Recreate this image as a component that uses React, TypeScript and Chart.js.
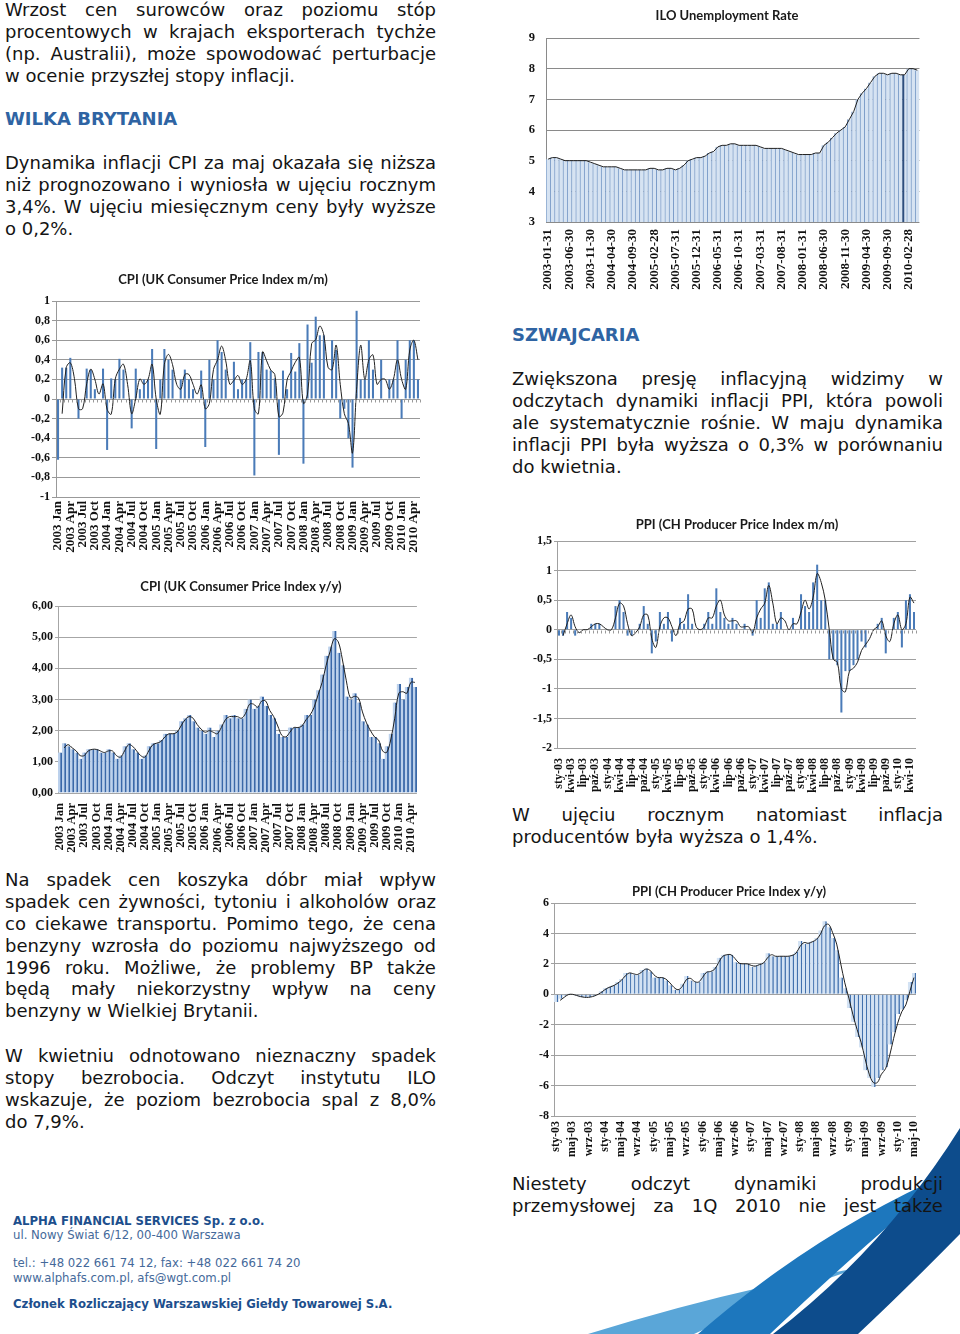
import React, { useEffect, useRef } from 'react';
import { Chart, registerables } from 'chart.js';

Chart.register(...registerables);

// ------------------------------------------------------------------ DATA
const EN_MONTHS = ['Jan', 'Feb', 'Mar', 'Apr', 'May', 'Jun', 'Jul', 'Aug', 'Sep', 'Oct', 'Nov', 'Dec'];
const PL_MONTHS = ['sty', 'lut', 'mar', 'kwi', 'maj', 'cze', 'lip', 'sie', 'wrz', 'paź', 'lis', 'gru'];

// ILO Unemployment Rate, monthly 2003-01 .. 2010-04
const iloStartYear = 2003;
const iloRate = [
  5.05, 5.1, 5.1, 5.05, 5.0, 5.0, 5.0, 5.0, 5.0, 5.0,
  4.95, 4.9, 4.85, 4.8, 4.8, 4.8, 4.8, 4.75, 4.7, 4.7,
  4.7, 4.7, 4.7, 4.7, 4.75, 4.75, 4.7, 4.7, 4.75, 4.75,
  4.7, 4.75, 4.85, 5.0, 5.05, 5.1, 5.1, 5.15, 5.25, 5.3,
  5.45, 5.5, 5.5, 5.55, 5.55, 5.5, 5.5, 5.5, 5.5, 5.5,
  5.45, 5.4, 5.4, 5.4, 5.4, 5.4, 5.35, 5.3, 5.25, 5.2,
  5.2, 5.2, 5.2, 5.25, 5.25, 5.5, 5.6, 5.75, 5.9, 6.0,
  6.1, 6.35, 6.6, 7.0, 7.2, 7.35, 7.55, 7.75, 7.85, 7.85,
  7.8, 7.85, 7.85, 7.8, 7.8, 8.0, 8.0, 7.95,
];
const iloLabelEvery = 5;
const iloMarkedMonth = '2010-01-31';

// UK CPI m/m, monthly 2003 Jan .. 2010 May
const cpiStartYear = 2003;
const cpiMomValues = [
  -0.62, 0.32, 0.32, 0.42, 0.0, -0.2, 0.0, 0.31, 0.3, 0.1,
  0.0, 0.31, -0.52, 0.21, 0.2, 0.41, 0.3, 0.0, -0.3, 0.31,
  0.1, 0.2, 0.2, 0.51, -0.51, 0.2, 0.51, 0.4, 0.3, 0.0,
  0.2, 0.3, 0.2, 0.1, 0.0, 0.29, -0.49, 0.4, 0.2, 0.6,
  0.48, 0.3, 0.0, 0.38, 0.1, 0.2, 0.2, 0.58, -0.78, 0.48,
  0.48, 0.3, 0.29, 0.21, -0.57, 0.29, 0.1, 0.47, 0.28, 0.57,
  -0.66, 0.76, 0.37, 0.84, 0.65, 0.65, 0.0, 0.6, 0.5, -0.2,
  -0.1, -0.4, -0.7, 0.9, 0.2, 0.2, 0.6, 0.3, 0.0, 0.4,
  0.0, 0.2, 0.2, 0.6, -0.2, 0.4, 0.6, 0.6, 0.2,
];
// UK CPI y/y
const cpiYoyValues = [
  1.3, 1.6, 1.5, 1.4, 1.3, 1.1, 1.3, 1.4, 1.4, 1.4, 1.3, 1.3,
  1.4, 1.3, 1.1, 1.2, 1.5, 1.6, 1.4, 1.3, 1.1, 1.2, 1.5, 1.6,
  1.6, 1.7, 1.9, 1.9, 1.9, 2.0, 2.3, 2.4, 2.5, 2.3, 2.1, 2.0,
  1.9, 2.1, 1.8, 2.0, 2.2, 2.5, 2.4, 2.5, 2.4, 2.4, 2.7, 3.0,
  2.7, 2.8, 3.1, 2.8, 2.5, 2.4, 1.9, 1.8, 1.8, 2.1, 2.1, 2.1,
  2.2, 2.5, 2.5, 3.0, 3.3, 3.8, 4.4, 4.7, 5.2, 4.5, 4.1, 3.1,
  3.0, 3.2, 2.9, 2.3, 2.2, 1.8, 1.8, 1.6, 1.1, 1.5, 1.9, 2.9,
  3.5, 3.0, 3.4, 3.7, 3.4,
];
const cpiLabelEvery = 3;

// CH PPI m/m, monthly sty-03 .. maj-10
const ppiStartYear = 2003;
const ppiMomValues = [
  -0.1, -0.1, 0.3, 0.2, -0.1, 0.0, 0.0, 0.0, 0.1, 0.1,
  0.1, 0.0, 0.0, 0.0, 0.4, 0.5, 0.3, -0.1, -0.1, 0.0,
  0.1, 0.4, 0.1, -0.4, -0.2, 0.3, 0.1, 0.3, -0.2, 0.0,
  0.2, 0.1, 0.6, 0.1, 0.0, 0.0, 0.1, 0.3, 0.1, 0.7,
  0.3, 0.2, 0.1, 0.2, 0.1, 0.0, 0.1, 0.0, -0.1, 0.5,
  0.2, 0.7, 0.8, 0.1, 0.1, 0.3, 0.0, 0.0, 0.2, 0.0,
  0.6, 0.4, 0.3, 0.8, 1.1, 0.5, 0.5, -0.5, -0.5, -0.6,
  -1.4, -0.7, -0.7, -0.6, -0.5, -0.2, -0.3, 0.0, 0.0, 0.1,
  0.2, -0.4, 0.0, 0.2, 0.3, -0.3, 0.5, 0.6, 0.3,
];
// CH PPI y/y
const ppiYoyValues = [
  -0.5, -0.3, -0.1, 0.05, -0.05, -0.1, -0.2, -0.2, -0.2, -0.1,
  0.0, 0.2, 0.4, 0.5, 0.6, 0.8, 1.0, 1.4, 1.4, 1.3,
  1.3, 1.6, 1.7, 1.5, 1.1, 1.1, 1.1, 0.9, 0.6, 0.3,
  0.3, 0.7, 1.2, 0.9, 0.8, 0.8, 1.4, 1.5, 1.5, 1.8,
  2.4, 2.6, 2.6, 2.6, 2.1, 2.0, 2.0, 2.0, 1.8, 1.9,
  2.0, 2.1, 2.7, 2.5, 2.5, 2.5, 2.5, 2.5, 2.6, 2.8,
  3.5, 3.3, 3.4, 3.5, 3.7, 4.2, 4.8, 4.4, 3.7, 2.9,
  1.1, 0.4, -0.9, -1.8, -2.8, -3.5, -5.0, -5.5, -6.1, -5.5,
  -5.0, -4.8, -3.3, -2.5, -1.3, -1.0, -0.4, 0.8, 1.4,
];
const ppiMomLabelEvery = 3;
const ppiYoyLabelEvery = 4;

// ------------------------------------------------------------------ HELPERS
function monthEndLabels(startYear: number, n: number): string[] {
  const out: string[] = [];
  for (let k = 0; k < n; k++) {
    const y = startYear + Math.floor(k / 12);
    const m = (k % 12) + 1;
    const d = new Date(Date.UTC(y, m, 0)).getUTCDate();
    out.push(`${y}-${String(m).padStart(2, '0')}-${String(d).padStart(2, '0')}`);
  }
  return out;
}
function enMonthLabels(startYear: number, n: number): string[] {
  const out: string[] = [];
  for (let k = 0; k < n; k++) out.push(`${startYear + Math.floor(k / 12)} ${EN_MONTHS[k % 12]}`);
  return out;
}
function plMonthLabels(startYear: number, n: number): string[] {
  const out: string[] = [];
  for (let k = 0; k < n; k++) {
    const y = (startYear + Math.floor(k / 12)) % 100;
    out.push(`${PL_MONTHS[k % 12]}-${String(y).padStart(2, '0')}`);
  }
  return out;
}
// Excel "moving average (period 2)" trendline drawn over the columns
function excelMovingAverage2(values: number[]): (number | null)[] {
  return values.map((v, i) => (i === 0 ? null : (values[i - 1] + v) / 2));
}
const fmtOneDec = (v: number) => String(Math.round(v * 10) / 10).replace('.', ',');
const fmtTwoDec = (v: number) => (Math.round(v * 100) / 100).toFixed(2).replace('.', ',');
const fmtInt = (v: number) => String(Math.round(v));

// ------------------------------------------------------------------ CHART BUILDER
type Box = { left: number; top: number; width: number; height: number };
type Spec = {
  box: Box;
  plot: { left: number; top: number; right: number; bottom: number };
  title: string;
  titleAt: [number, number];
  labels: string[];
  bars: number[];
  line: (number | null)[];
  lineTension: number;
  barColor: string;
  barBorderColor: any;
  barBorderWidth: any;
  barPercentage: number;
  yMin: number;
  yMax: number;
  yStep: number;
  yFormat: (v: number) => string;
  yFont: any;
  yTickLen: number;
  yPad: number;
  xFont: any;
  xPad: number;
  labelEvery: number;
  gridColor: string;
  zeroTicks: boolean;
};

function buildConfig(s: Spec): any {
  const padTop = s.plot.top - s.box.top;
  const padRight = s.box.left + s.box.width - s.plot.right;
  const yW = s.plot.left - s.box.left;
  const xH = s.box.top + s.box.height - s.plot.bottom;

  const titlePlugin = {
    id: 'pageTitle',
    afterDraw(chart: any) {
      const ctx = chart.ctx;
      ctx.save();
      ctx.font = 'bold 13px Lato, "Open Sans", sans-serif';
      ctx.fillStyle = '#1a1a1a';
      ctx.textAlign = 'center';
      ctx.textBaseline = 'middle';
      ctx.fillText(s.title, s.titleAt[0] - s.box.left, s.titleAt[1] - s.box.top);
      ctx.restore();
    },
  };
  const zeroTickPlugin = {
    id: 'zeroTicks',
    afterDatasetsDraw(chart: any) {
      if (!s.zeroTicks) return;
      const { ctx, chartArea, scales } = chart;
      const y0 = Math.round(scales.y.getPixelForValue(0)) + 0.5;
      const n = chart.data.labels.length;
      const w = (chartArea.right - chartArea.left) / n;
      ctx.save();
      ctx.strokeStyle = '#9a9a9a';
      ctx.lineWidth = 1;
      ctx.beginPath();
      for (let i = 0; i <= n; i++) {
        const x = Math.round(chartArea.left + i * w) + 0.5;
        ctx.moveTo(x, y0);
        ctx.lineTo(x, y0 + 3);
      }
      ctx.stroke();
      ctx.restore();
    },
  };

  return {
    type: 'bar',
    data: {
      labels: s.labels,
      datasets: [
        {
          type: 'line',
          data: s.line,
          borderColor: '#202020',
          borderWidth: 1,
          pointRadius: 0,
          tension: s.lineTension,
          order: 0,
        },
        {
          type: 'bar',
          data: s.bars,
          backgroundColor: s.barColor,
          borderColor: s.barBorderColor,
          borderWidth: s.barBorderWidth,
          barPercentage: s.barPercentage,
          categoryPercentage: 1,
          order: 1,
        },
      ],
    },
    options: {
      responsive: true,
      maintainAspectRatio: false,
      animation: false,
      devicePixelRatio: 1,
      events: [],
      layout: { padding: { top: padTop, right: padRight, left: 0, bottom: 0 } },
      plugins: { legend: { display: false }, tooltip: { enabled: false }, title: { display: false } },
      scales: {
        x: {
          afterFit: (sc: any) => {
            sc.height = xH;
          },
          grid: { display: false, drawTicks: false },
          border: { display: false },
          ticks: {
            autoSkip: false,
            maxRotation: 90,
            minRotation: 90,
            padding: s.xPad,
            font: s.xFont,
            color: '#111',
            callback: (_v: any, i: number) => (i % s.labelEvery === 0 ? s.labels[i] : ''),
          },
        },
        y: {
          min: s.yMin,
          max: s.yMax,
          afterFit: (sc: any) => {
            sc.width = yW;
          },
          ticks: {
            stepSize: s.yStep,
            padding: s.yPad,
            font: s.yFont,
            color: '#111',
            callback: (v: any) => s.yFormat(Number(v)),
          },
          grid: {
            color: s.gridColor,
            drawTicks: s.yTickLen > 0,
            tickLength: s.yTickLen,
          },
          border: { color: s.gridColor },
        },
      },
    },
    plugins: [titlePlugin, zeroTickPlugin],
  };
}

function AbsChart({ box, config }: { box: Box; config: any }) {
  const ref = useRef<HTMLCanvasElement>(null);
  useEffect(() => {
    const chart = new Chart(ref.current as HTMLCanvasElement, config);
    return () => chart.destroy();
  }, []);
  return (
    <div style={{ position: 'absolute', left: box.left, top: box.top, width: box.width, height: box.height }}>
      <canvas ref={ref} />
    </div>
  );
}

// ------------------------------------------------------------------ CHART SPECS
const serifBold = (size: number) => ({ family: '"Liberation Serif", "DejaVu Serif", serif', weight: 'bold', size });

const iloLabels = monthEndLabels(iloStartYear, iloRate.length);
const iloMarkIdx = iloLabels.indexOf(iloMarkedMonth);
const iloSpec: Spec = {
  box: { left: 500, top: 0, width: 440, height: 295 },
  plot: { left: 546, top: 38, right: 928, bottom: 222 },
  title: 'ILO Unemployment Rate',
  titleAt: [727, 16],
  labels: iloLabels,
  bars: iloRate,
  line: iloRate,
  lineTension: 0,
  barColor: '#d6e3f2',
  barBorderColor: (ctx: any) => (ctx.dataIndex === iloMarkIdx ? '#2d4e7e' : '#7b9cc8'),
  barBorderWidth: (ctx: any) =>
    ctx.dataIndex === iloMarkIdx ? { left: 2.5, right: 0, top: 0, bottom: 0 } : { left: 1, right: 0, top: 0, bottom: 0 },
  barPercentage: 1,
  yMin: 3,
  yMax: 9,
  yStep: 1,
  yFormat: fmtInt,
  yFont: serifBold(12.5),
  yTickLen: 0,
  yPad: 11,
  xFont: serifBold(13),
  xPad: 7,
  labelEvery: iloLabelEvery,
  gridColor: '#8a8a8a',
  zeroTicks: false,
};

const cpiLabels = enMonthLabels(cpiStartYear, cpiMomValues.length);
const cpiMomSpec: Spec = {
  box: { left: 20, top: 265, width: 420, height: 290 },
  plot: { left: 56, top: 301, right: 420, bottom: 497 },
  title: 'CPI (UK Consumer Price Index m/m)',
  titleAt: [223, 280],
  labels: cpiLabels,
  bars: cpiMomValues,
  line: excelMovingAverage2(cpiMomValues),
  lineTension: 0.35,
  barColor: '#4a7bb8',
  barBorderColor: '#3d6aa3',
  barBorderWidth: 0,
  barPercentage: 0.5,
  yMin: -1,
  yMax: 1,
  yStep: 0.2,
  yFormat: fmtOneDec,
  yFont: serifBold(12),
  yTickLen: 4,
  yPad: 2,
  xFont: serifBold(13),
  xPad: 4,
  labelEvery: cpiLabelEvery,
  gridColor: '#999999',
  zeroTicks: true,
};

const cpiYoyLabels = enMonthLabels(cpiStartYear, cpiYoyValues.length);
const cpiYoySpec: Spec = {
  box: { left: 20, top: 570, width: 420, height: 290 },
  plot: { left: 58, top: 606, right: 419, bottom: 793 },
  title: 'CPI (UK Consumer Price Index y/y)',
  titleAt: [241, 587],
  labels: cpiYoyLabels,
  bars: cpiYoyValues,
  line: excelMovingAverage2(cpiYoyValues),
  lineTension: 0.35,
  barColor: '#bcd1ec',
  barBorderColor: '#3a68a8',
  barBorderWidth: { left: 0, right: 2, top: 0, bottom: 0 },
  barPercentage: 1,
  yMin: 0,
  yMax: 6,
  yStep: 1,
  yFormat: fmtTwoDec,
  yFont: serifBold(12),
  yTickLen: 3,
  yPad: 2,
  xFont: serifBold(12.5),
  xPad: 10,
  labelEvery: cpiLabelEvery,
  gridColor: '#a6a6a6',
  zeroTicks: false,
};

const ppiLabels = plMonthLabels(ppiStartYear, ppiMomValues.length);
const ppiMomSpec: Spec = {
  box: { left: 510, top: 510, width: 430, height: 290 },
  plot: { left: 557, top: 541, right: 916, bottom: 748 },
  title: 'PPI (CH Producer Price Index m/m)',
  titleAt: [737, 525],
  labels: ppiLabels,
  bars: ppiMomValues,
  line: excelMovingAverage2(ppiMomValues),
  lineTension: 0.35,
  barColor: '#4a7bb8',
  barBorderColor: '#3d6aa3',
  barBorderWidth: 0,
  barPercentage: 0.5,
  yMin: -2,
  yMax: 1.5,
  yStep: 0.5,
  yFormat: fmtOneDec,
  yFont: serifBold(12),
  yTickLen: 3,
  yPad: 2,
  xFont: serifBold(12),
  xPad: 10,
  labelEvery: ppiMomLabelEvery,
  gridColor: '#a0a0a0',
  zeroTicks: true,
};

const ppiYoyLabels = plMonthLabels(ppiStartYear, ppiYoyValues.length);
const ppiYoySpec: Spec = {
  box: { left: 510, top: 875, width: 430, height: 290 },
  plot: { left: 554, top: 903, right: 916, bottom: 1116 },
  title: 'PPI (CH Producer Price Index y/y)',
  titleAt: [729, 892],
  labels: ppiYoyLabels,
  bars: ppiYoyValues,
  line: excelMovingAverage2(ppiYoyValues),
  lineTension: 0.35,
  barColor: '#d3e2f3',
  barBorderColor: '#4170ad',
  barBorderWidth: { left: 0, right: 1.5, top: 0, bottom: 0 },
  barPercentage: 1,
  yMin: -8,
  yMax: 6,
  yStep: 2,
  yFormat: fmtInt,
  yFont: serifBold(12),
  yTickLen: 3,
  yPad: 2,
  xFont: serifBold(12),
  xPad: 5,
  labelEvery: ppiYoyLabelEvery,
  gridColor: '#a0a0a0',
  zeroTicks: false,
};

// ------------------------------------------------------------------ TEXT
const LINE_H = 21.9;

const p1 = [
  'Wrzost cen surowców oraz poziomu stóp',
  'procentowych w krajach eksporterach tychże',
  '(np. Australii), może spowodować perturbacje',
  'w ocenie przyszłej stopy inflacji.',
];
const p2 = [
  'Dynamika inflacji CPI za maj okazała się niższa',
  'niż prognozowano i wyniosła w ujęciu rocznym',
  '3,4%. W ujęciu miesięcznym ceny były wyższe',
  'o 0,2%.',
];
const p3 = [
  'Na spadek cen koszyka dóbr miał wpływ',
  'spadek cen żywności, tytoniu i alkoholów oraz',
  'co ciekawe transportu. Pomimo tego, że cena',
  'benzyny wzrosła do poziomu najwyższego od',
  '1996 roku. Możliwe, że problemy BP także',
  'będą mały niekorzystny wpływ na ceny',
  'benzyny w Wielkiej Brytanii.',
];
const p4 = [
  'W kwietniu odnotowano nieznaczny spadek',
  'stopy bezrobocia. Odczyt instytutu ILO',
  'wskazuje, że poziom bezrobocia spal z 8,0%',
  'do 7,9%.',
];
const p5 = [
  'Zwiększona presję inflacyjną widzimy w',
  'odczytach dynamiki inflacji PPI, która powoli',
  'ale systematycznie rośnie. W maju dynamika',
  'inflacji PPI była wyższa o 0,3% w porównaniu',
  'do kwietnia.',
];
const p6 = ['W ujęciu rocznym natomiast inflacja', 'producentów była wyższa o 1,4%.'];
const p7 = ['Niestety odczyt dynamiki produkcji', 'przemysłowej za 1Q 2010 nie jest także'];

const footer = [
  { text: 'ALPHA FINANCIAL SERVICES Sp. z o.o.', y: 1221, bold: true },
  { text: 'ul. Nowy Świat 6/12, 00-400 Warszawa', y: 1235, bold: false },
  { text: 'tel.: +48 022 661 74 12, fax: +48 022 661 74 20', y: 1263, bold: false },
  { text: 'www.alphafs.com.pl, afs@wgt.com.pl', y: 1278, bold: false },
  { text: 'Członek Rozliczający Warszawskiej Giełdy Towarowej S.A.', y: 1304, bold: true },
];

function TextLines({ left, top, lines, justifyLast = false }: { left: number; top: number; lines: string[]; justifyLast?: boolean }) {
  return (
    <div style={{ position: 'absolute', left, top, width: 431 }}>
      {lines.map((line, i) => {
        const justify = i < lines.length - 1 || justifyLast;
        const style: React.CSSProperties = { height: LINE_H, lineHeight: `${LINE_H}px`, whiteSpace: 'nowrap' };
        if (!justify) return <div key={i} style={style}>{line}</div>;
        return (
          <div key={i} style={{ ...style, display: 'flex', justifyContent: 'space-between' }}>
            {line.split(' ').map((w, j) => (
              <span key={j}>{w}</span>
            ))}
          </div>
        );
      })}
    </div>
  );
}

function Heading({ left, top, text }: { left: number; top: number; text: string }) {
  return (
    <div style={{ position: 'absolute', left, top, lineHeight: `${LINE_H}px`, fontWeight: 'bold', color: '#2f64a3', whiteSpace: 'nowrap' }}>
      {text}
    </div>
  );
}

function Swoosh() {
  return (
    <svg width={960} height={1334} style={{ position: 'absolute', left: 0, top: 0 }}>
      <path d="M 588 1334 Q 730 1290 858 1268 Q 765 1300 694 1334 Z" fill="#5aa6d8" />
      <path d="M 698 1334 Q 815 1232 952 1172 Q 860 1248 770 1334 Z" fill="#1d77bd" />
      <path d="M 773 1334 Q 885 1248 960 1128 L 960 1234 Q 905 1290 858 1334 Z" fill="#0d4c8c" />
    </svg>
  );
}

export default function App() {
  return (
    <div
      style={{
        position: 'absolute',
        left: 0,
        top: 0,
        width: 960,
        height: 1334,
        overflow: 'hidden',
        background: '#ffffff',
        fontFamily: '"DejaVu Sans", Verdana, sans-serif',
        fontSize: 18,
        color: '#141414',
      }}
    >
      <Swoosh />

      <TextLines left={5} top={-1} lines={p1} />
      <Heading left={5} top={108} text="WILKA BRYTANIA" />
      <TextLines left={5} top={152} lines={p2} />
      <TextLines left={5} top={869} lines={p3} />
      <TextLines left={5} top={1045} lines={p4} />

      <Heading left={512} top={324} text="SZWAJCARIA" />
      <TextLines left={512} top={368} lines={p5} />
      <TextLines left={512} top={804} lines={p6} />
      <TextLines left={512} top={1173} lines={p7} justifyLast />

      {footer.map((f, i) => (
        <div
          key={i}
          style={{
            position: 'absolute',
            left: 13,
            top: f.y - 8,
            lineHeight: '16px',
            fontSize: 13,
            fontFamily: '"DejaVu Sans Condensed", "Liberation Sans Narrow", "DejaVu Sans", sans-serif',
            fontWeight: f.bold ? 'bold' : 'normal',
            color: f.bold ? '#1d4f8d' : '#44699a',
            whiteSpace: 'nowrap',
          }}
        >
          {f.text}
        </div>
      ))}

      <AbsChart box={iloSpec.box} config={buildConfig(iloSpec)} />
      <AbsChart box={cpiMomSpec.box} config={buildConfig(cpiMomSpec)} />
      <AbsChart box={cpiYoySpec.box} config={buildConfig(cpiYoySpec)} />
      <AbsChart box={ppiMomSpec.box} config={buildConfig(ppiMomSpec)} />
      <AbsChart box={ppiYoySpec.box} config={buildConfig(ppiYoySpec)} />
    </div>
  );
}
